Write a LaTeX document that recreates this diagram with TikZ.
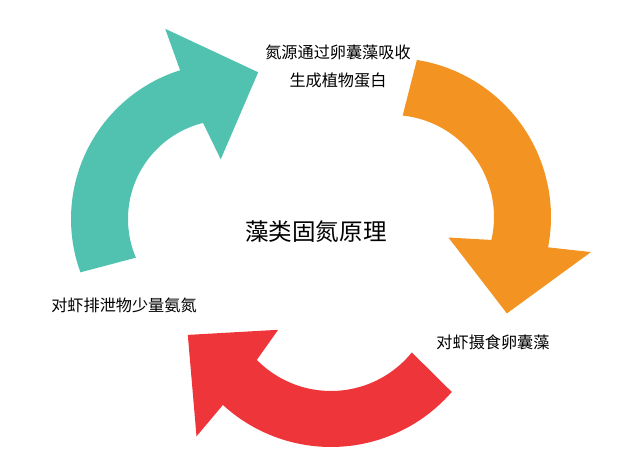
\documentclass[tikz,border=0pt]{standalone}
\usepackage{fontspec}
\newfontfamily\cjk{Noto Sans CJK SC}
\usepackage{tikz}
\usetikzlibrary{calc}

\definecolor{tealarrow}{RGB}{82,194,176}
\definecolor{orangearrow}{RGB}{243,148,34}
\definecolor{redarrow}{RGB}{238,53,57}

\begin{document}
\begin{tikzpicture}[x=0.02cm, y=0.02cm,
        desc/.style={font=\cjk\fontsize{9.2}{15.9}\selectfont, text=black, align=center, inner sep=0pt}]
        \useasboundingbox (0,0) rectangle (640,463);

        \coordinate (T) at (227,244);
        \coordinate (O) at (392,246);
        \coordinate (R) at (331,176);

        % the three arrows of the cycle
        \fill[tealarrow] ($(T)+(200:156)$) arc[start angle=200, end angle=107.5, radius=156]
            -- ($(T)+(108:200)$) -- ($(T)+(78:150)$) -- ($(T)+(96:60)$) -- ($(T)+(104:99)$)
            arc[start angle=104, end angle=203, radius=99] -- cycle;
        \fill[orangearrow] ($(O)+(81:159)$) arc[start angle=81, end angle=-11, radius=159]
            -- ($(O)+(-10:202)$) -- ($(O)+(-40:150)$) -- ($(O)+(-20:60)$) -- ($(O)+(-13:102)$)
            arc[start angle=-13, end angle=84, radius=102] -- cycle;
        \fill[redarrow] ($(R)+(-41:160)$) arc[start angle=-41, end angle=-132.5, radius=160]
            -- ($(R)+(-132:201)$) -- ($(R)+(-161.5:151)$) -- ($(R)+(-141:68)$) -- ($(R)+(-135.5:104)$)
            arc[start angle=-135.5, end angle=-39, radius=104] -- cycle;

        \node[desc] (top) at (338,397) {氮源通过卵囊藻吸收\\生成植物蛋白};
        \node[desc, font=\cjk\fontsize{13.4}{16}\selectfont] (title) at (316,231) {藻类固氮原理};
        \node[desc] (left) at (124,158) {对虾排泄物少量氨氮};
        \node[desc] (right) at (493,121) {对虾摄食卵囊藻};
    \end{tikzpicture}
\end{document}
